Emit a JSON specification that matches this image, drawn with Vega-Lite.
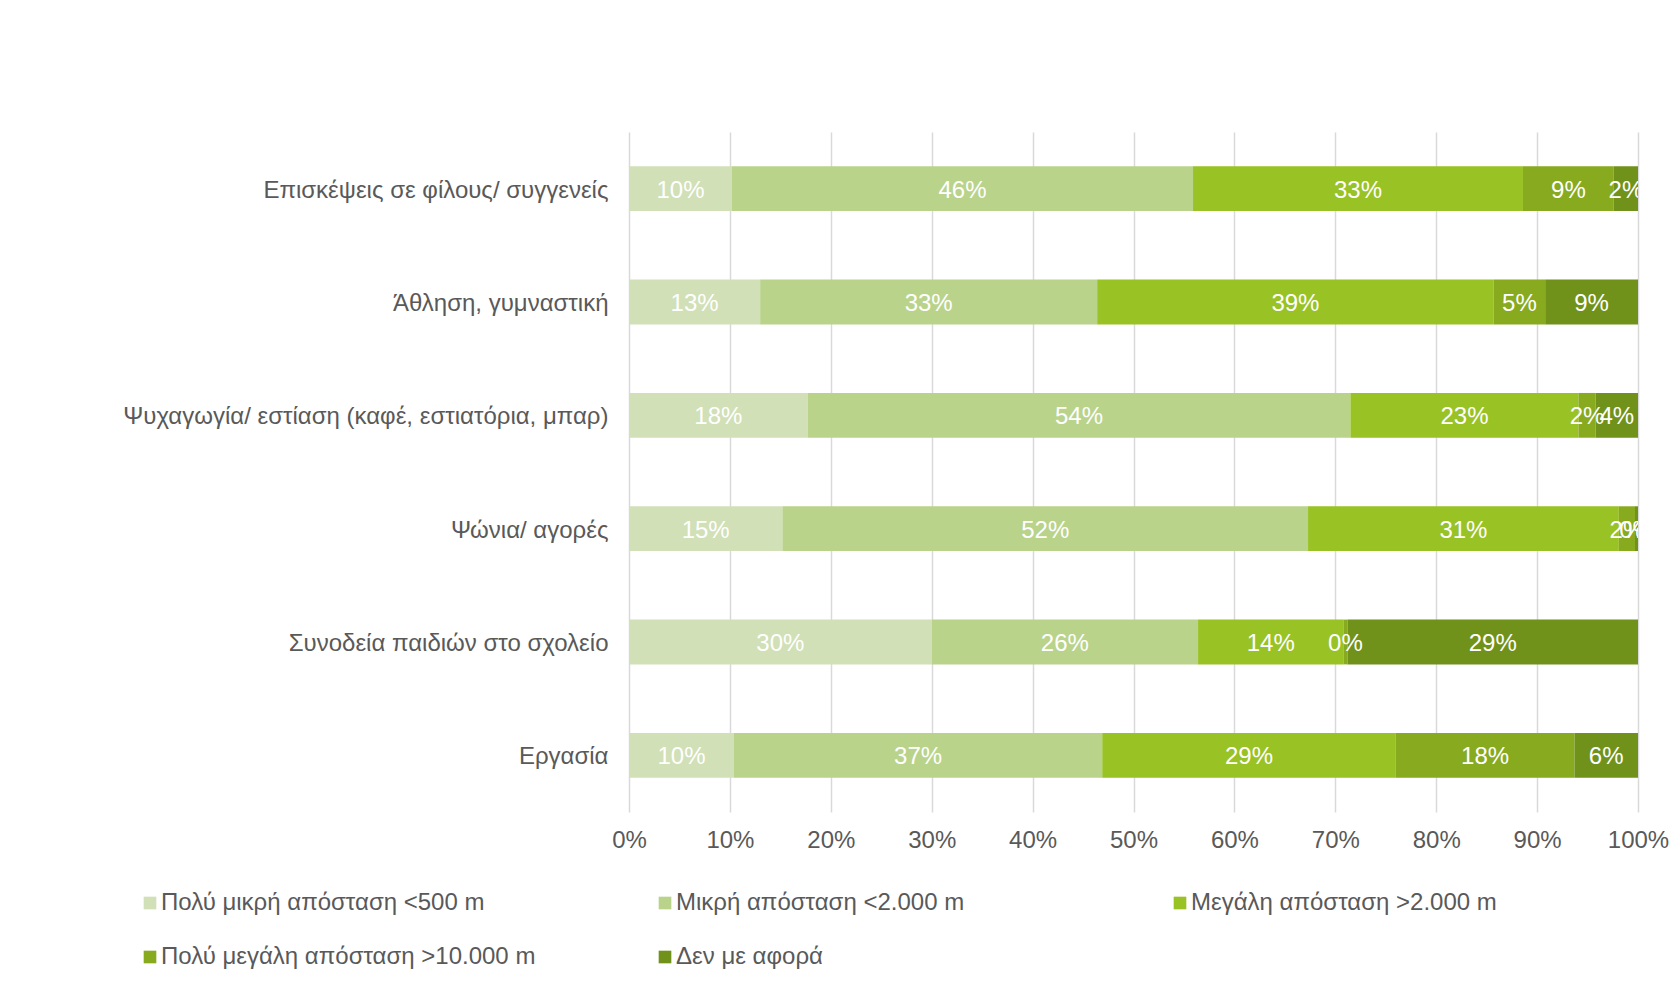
{
  "$schema": "https://vega.github.io/schema/vega-lite/v6.json",
  "autosize": {"type": "none"},
  "width": 1009,
  "height": 680,
  "padding": {"left": 629, "top": 132, "right": 42, "bottom": 184},
  "background": "white",
  "config": {
    "font": "Liberation Sans",
    "view": {"stroke": null},
    "axis": {"labelFont": "Liberation Sans", "labelColor": "#595959", "labelFontSize": 24}
  },
  "data": {
    "values": [
      {"act": "Επισκέψεις σε φίλους/ συγγενείς", "cat": "Πολύ μικρή απόσταση <500 m", "k": 1, "v": 0.102},
      {"act": "Επισκέψεις σε φίλους/ συγγενείς", "cat": "Μικρή απόσταση <2.000 m", "k": 2, "v": 0.457},
      {"act": "Επισκέψεις σε φίλους/ συγγενείς", "cat": "Μεγάλη απόσταση >2.000 m", "k": 3, "v": 0.327},
      {"act": "Επισκέψεις σε φίλους/ συγγενείς", "cat": "Πολύ μεγάλη απόσταση >10.000 m", "k": 4, "v": 0.090},
      {"act": "Επισκέψεις σε φίλους/ συγγενείς", "cat": "Δεν με αφορά", "k": 5, "v": 0.024},
      {"act": "Άθληση, γυμναστική", "cat": "Πολύ μικρή απόσταση <500 m", "k": 1, "v": 0.130},
      {"act": "Άθληση, γυμναστική", "cat": "Μικρή απόσταση <2.000 m", "k": 2, "v": 0.334},
      {"act": "Άθληση, γυμναστική", "cat": "Μεγάλη απόσταση >2.000 m", "k": 3, "v": 0.393},
      {"act": "Άθληση, γυμναστική", "cat": "Πολύ μεγάλη απόσταση >10.000 m", "k": 4, "v": 0.051},
      {"act": "Άθληση, γυμναστική", "cat": "Δεν με αφορά", "k": 5, "v": 0.092},
      {"act": "Ψυχαγωγία/ εστίαση (καφέ, εστιατόρια, μπαρ)", "cat": "Πολύ μικρή απόσταση <500 m", "k": 1, "v": 0.177},
      {"act": "Ψυχαγωγία/ εστίαση (καφέ, εστιατόρια, μπαρ)", "cat": "Μικρή απόσταση <2.000 m", "k": 2, "v": 0.538},
      {"act": "Ψυχαγωγία/ εστίαση (καφέ, εστιατόρια, μπαρ)", "cat": "Μεγάλη απόσταση >2.000 m", "k": 3, "v": 0.226},
      {"act": "Ψυχαγωγία/ εστίαση (καφέ, εστιατόρια, μπαρ)", "cat": "Πολύ μεγάλη απόσταση >10.000 m", "k": 4, "v": 0.017},
      {"act": "Ψυχαγωγία/ εστίαση (καφέ, εστιατόρια, μπαρ)", "cat": "Δεν με αφορά", "k": 5, "v": 0.042},
      {"act": "Ψώνια/ αγορές", "cat": "Πολύ μικρή απόσταση <500 m", "k": 1, "v": 0.152},
      {"act": "Ψώνια/ αγορές", "cat": "Μικρή απόσταση <2.000 m", "k": 2, "v": 0.521},
      {"act": "Ψώνια/ αγορές", "cat": "Μεγάλη απόσταση >2.000 m", "k": 3, "v": 0.308},
      {"act": "Ψώνια/ αγορές", "cat": "Πολύ μεγάλη απόσταση >10.000 m", "k": 4, "v": 0.016},
      {"act": "Ψώνια/ αγορές", "cat": "Δεν με αφορά", "k": 5, "v": 0.003},
      {"act": "Συνοδεία παιδιών στο σχολείο\u00a0", "cat": "Πολύ μικρή απόσταση <500 m", "k": 1, "v": 0.300},
      {"act": "Συνοδεία παιδιών στο σχολείο\u00a0", "cat": "Μικρή απόσταση <2.000 m", "k": 2, "v": 0.264},
      {"act": "Συνοδεία παιδιών στο σχολείο\u00a0", "cat": "Μεγάλη απόσταση >2.000 m", "k": 3, "v": 0.144},
      {"act": "Συνοδεία παιδιών στο σχολείο\u00a0", "cat": "Πολύ μεγάλη απόσταση >10.000 m", "k": 4, "v": 0.004},
      {"act": "Συνοδεία παιδιών στο σχολείο\u00a0", "cat": "Δεν με αφορά", "k": 5, "v": 0.288},
      {"act": "Εργασία", "cat": "Πολύ μικρή απόσταση <500 m", "k": 1, "v": 0.104},
      {"act": "Εργασία", "cat": "Μικρή απόσταση <2.000 m", "k": 2, "v": 0.365},
      {"act": "Εργασία", "cat": "Μεγάλη απόσταση >2.000 m", "k": 3, "v": 0.291},
      {"act": "Εργασία", "cat": "Πολύ μεγάλη απόσταση >10.000 m", "k": 4, "v": 0.177},
      {"act": "Εργασία", "cat": "Δεν με αφορά", "k": 5, "v": 0.063}
    ]
  },
  "encoding": {
    "y": {
      "field": "act", "type": "nominal", "sort": null,
      "scale": {"paddingInner": 0.605, "paddingOuter": 0.3025},
      "axis": {"title": null, "domain": false, "ticks": false, "labelPadding": 21, "labelLimit": 600, "labelOffset": 2}
    },
    "x": {
      "field": "v", "type": "quantitative", "stack": "zero",
      "scale": {"domain": [0, 1], "nice": false},
      "axis": {"title": null, "format": ".0%", "values": [0, 0.1, 0.2, 0.3, 0.4, 0.5, 0.6, 0.7, 0.8, 0.9, 1],
               "domain": false, "ticks": false, "grid": true, "gridColor": "#d9d9d9", "gridWidth": 1.5,
               "labelPadding": 16, "labelFlush": false}
    },
    "order": {"field": "k", "type": "quantitative"}
  },
  "layer": [
    {
      "mark": {"type": "bar"},
      "encoding": {
        "color": {
          "field": "cat", "type": "nominal",
          "scale": {
            "domain": ["Πολύ μικρή απόσταση <500 m", "Μικρή απόσταση <2.000 m", "Μεγάλη απόσταση >2.000 m", "Πολύ μεγάλη απόσταση >10.000 m", "Δεν με αφορά"],
            "range": ["#d1e0b7", "#b9d38b", "#99c224", "#87aa1f", "#71921a"]
          },
          "legend": {
            "title": null, "orient": "none", "legendX": -491, "legendY": 759,
            "direction": "horizontal", "columns": 3, "gridAlign": "all",
            "columnPadding": 117, "rowPadding": 30, "padding": 0,
            "symbolType": "square", "symbolSize": 160, "symbolStrokeWidth": 0, "symbolOffset": 0,
            "labelOffset": -1, "labelFontSize": 24, "labelColor": "#595959", "labelFont": "Liberation Sans", "labelLimit": 600
          }
        }
      }
    },
    {
      "mark": {"type": "text", "color": "white", "fontSize": 24, "font": "Liberation Sans", "clip": true, "dy": 2},
      "encoding": {
        "x": {"field": "v", "type": "quantitative", "stack": "zero", "bandPosition": 0.5},
        "text": {"field": "v", "type": "quantitative", "format": ".0%"}
      }
    }
  ]
}
